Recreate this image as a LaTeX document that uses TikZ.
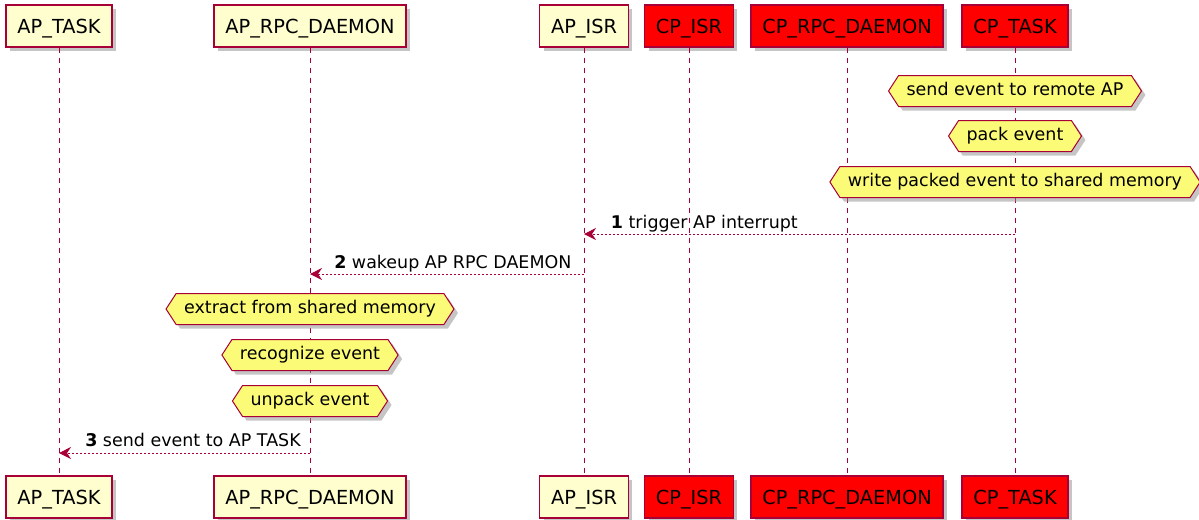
\documentclass[tikz,border=0pt]{standalone}
\usepackage{fontspec}
\setmainfont{DejaVu Sans}
\usetikzlibrary{shapes.symbols,shadows,arrows.meta}
\definecolor{pborder}{HTML}{A80036}
\definecolor{pfill}{HTML}{FEFECE}
\definecolor{nfill}{HTML}{FBFB77}
\begin{document}
\begin{tikzpicture}[x=0.75pt,y=-0.75pt,
  shd/.style={drop shadow={shadow xshift=3pt,shadow yshift=-3pt,fill=black!45,opacity=0.5}},
  part/.style={draw=pborder, fill=pfill, line width=1.1pt, minimum height=31.5pt, inner xsep=8.5pt, text height=10.5pt, text depth=0pt, font=\fontsize{14.5}{17}\selectfont, shd},
  cppart/.style={part, fill=red},
  hexnote/.style={shape=signal, signal to=east and west, draw=pborder, fill=nfill, line width=0.75pt, inner xsep=6pt, minimum height=23.25pt, signal pointer angle=114, text height=9.5pt, text depth=2.7pt, font=\fontsize{13.1}{15}\selectfont, shd},
  life/.style={draw=pborder, dash pattern=on 3.75pt off 3.75pt, line width=0.75pt},
  msg/.style={draw=pborder, line width=0.75pt, dash pattern=on 1.5pt off 1.5pt, -{Stealth[length=9pt,width=9pt,inset=3pt]}},
  lbl/.style={anchor=base west, font=\fontsize{13.1}{15}\selectfont, inner sep=0pt}]
\useasboundingbox (0,0) rectangle (1199,519);
% participants top
\node[part] (t1) at (59,26) {AP\_TASK};
\node[part] (t2) at (310,26) {AP\_RPC\_DAEMON};
\node[part] (t3) at (584,26) {AP\_ISR};
\node[cppart] (t4) at (689,26) {CP\_ISR};
\node[cppart] (t5) at (847,26) {CP\_RPC\_DAEMON};
\node[cppart] (t6) at (1015,26) {CP\_TASK};
% participants bottom
\node[part] (b1) at (59,497) {AP\_TASK};
\node[part] (b2) at (310,497) {AP\_RPC\_DAEMON};
\node[part] (b3) at (584,497) {AP\_ISR};
\node[cppart] (b4) at (689,497) {CP\_ISR};
\node[cppart] (b5) at (847,497) {CP\_RPC\_DAEMON};
\node[cppart] (b6) at (1015,497) {CP\_TASK};
% lifelines
\foreach \i in {1,...,6} {\draw[life] (t\i.south) -- (b\i.north);}
% notes on CP_TASK
\coordinate (yn1) at (0,91);
\coordinate (yn2) at (0,136);
\coordinate (yn3) at (0,182);
\node[hexnote] (n1) at (t6 |- yn1) {send event to remote AP};
\node[hexnote] (n2) at (t6 |- yn2) {pack event};
\node[hexnote] (n3) at (t6 |- yn3) {write packed event to shared memory};
% messages
\coordinate (ym1) at (0,234);
\coordinate (ym2) at (0,274);
\coordinate (ym3) at (0,453);
\draw[msg] (t6 |- ym1) -- (t3 |- ym1);
\node[lbl] (l1) at ([xshift=20pt,yshift=4.5pt]t3 |- ym1) {\textbf{1} trigger AP interrupt};
\draw[msg] (t3 |- ym2) -- (t2 |- ym2);
\node[lbl] (l2) at ([xshift=18pt,yshift=4.5pt]t2 |- ym2) {\textbf{2} wakeup AP RPC DAEMON};
% notes on AP_RPC_DAEMON
\coordinate (yn4) at (0,309);
\coordinate (yn5) at (0,355);
\coordinate (yn6) at (0,401);
\node[hexnote] (n4) at (t2 |- yn4) {extract from shared memory};
\node[hexnote] (n5) at (t2 |- yn5) {recognize event};
\node[hexnote] (n6) at (t2 |- yn6) {unpack event};
\draw[msg] (t2 |- ym3) -- (t1 |- ym3);
\node[lbl] (l3) at ([xshift=19.5pt,yshift=5pt]t1 |- ym3) {\textbf{3} send event to AP TASK};
\end{tikzpicture}
\end{document}
